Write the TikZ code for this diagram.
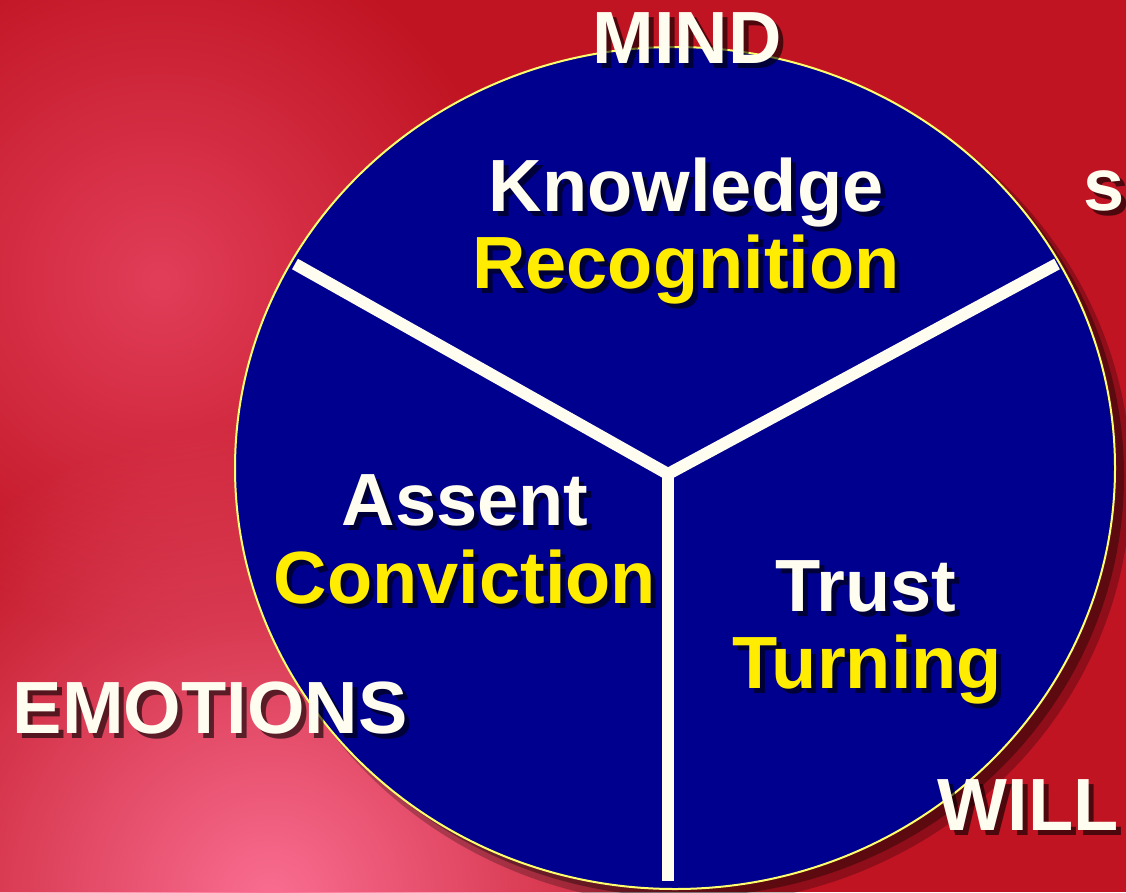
\documentclass[tikz,border=0pt]{standalone}
\usepackage{fontspec}
\setmainfont{Liberation Sans}
\usetikzlibrary{fadings}
\tikzfading[name=glowfade, inner color=transparent!0, outer color=transparent!100]
\definecolor{bgred}{RGB}{192,20,34}
\definecolor{glowpink}{RGB}{250,110,146}
\definecolor{hazepink}{RGB}{226,62,90}
\definecolor{discblue}{RGB}{0,0,142}
\definecolor{ringyellow}{RGB}{255,255,110}
\definecolor{textwhite}{RGB}{255,252,240}
\definecolor{textyellow}{RGB}{255,236,0}
\begin{document}
\begin{tikzpicture}[x=1pt, y=-1pt, line join=miter,
  lbl/.style={font=\fontsize{74}{80}\selectfont\bfseries, anchor=base, inner sep=0pt},
  shd/.style={lbl, text=black, text opacity=0.6},
  spoke/.style={draw=textwhite, line width=12}]
\def\W{1126} \def\H{892}
\useasboundingbox (0,0) rectangle (\W,\H);
% background
\fill[bgred] (0,0) rectangle (\W,\H);
\begin{scope}
\clip (0,0) rectangle (\W,\H);
\fill[hazepink, path fading=glowfade] (160,280) circle (360);
\fill[glowpink, path fading=glowfade] (270,900) circle (480);
\fill[black, opacity=0.25] (688,481) ellipse (443 and 424);
\fill[black, opacity=0.35] (684,476) ellipse (440 and 421);
\end{scope}
% disc
\fill[discblue, draw=ringyellow, line width=2] (675,468) ellipse (440 and 421);
\coordinate (hub) at (668,474);
\coordinate (armL) at (295,264);
\coordinate (armR) at (1057,264);
\coordinate (armD) at (668,881);
\draw[spoke] (armL) -- (hub) -- (armR);
\draw[spoke] (hub) -- (armD);
% labels
\foreach \nm/\px/\py/\col/\txt in {
  mind/687/63/textwhite/MIND,
  know/686/211/textwhite/Knowledge,
  recog/686/288/textyellow/Recognition,
  assent/465/525/textwhite/Assent,
  convic/465/603/textyellow/Conviction,
  trust/866/611/textwhite/Trust,
  turn/867/688/textyellow/Turning,
  emo/210/733/textwhite/EMOTIONS,
  will/1028/830/textwhite/WILL}
{
  \node[shd] (\nm-sh) at (\px+5,\py+5) {\txt};
  \node[lbl, text=\col] (\nm) at (\px,\py) {\txt};
}
\node[shd, anchor=base west] (soul-sh) at (1088,215) {s};
\node[lbl, anchor=base west, text=textwhite] (soul) at (1083,210) {s};
\end{tikzpicture}
\end{document}
